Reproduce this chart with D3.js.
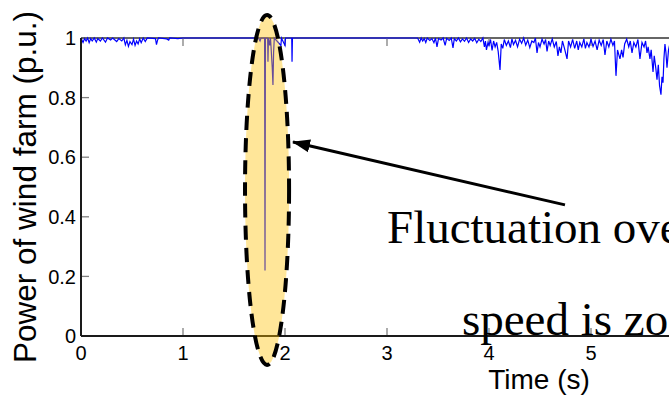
<!DOCTYPE html>
<html>
<head>
<meta charset="utf-8">
<script src="https://cdn.jsdelivr.net/npm/d3@7"></script>
<style>
  body { margin: 0; background: #fff; }
  svg { display: block; }
</style>
</head>
<body>
<div id="chart"></div>
<script>
// axis ticks
var xTicks = [0, 1, 2, 3, 4, 5];
var yTicks = [0, 0.2, 0.4, 0.6, 0.8, 1];

// power of wind farm (p.u.) against time (s)
var powerSeries = [
    [0.00, 1], [0.02, 0.985], [0.035, 0.998], [0.05, 0.99], [0.065, 1], [0.08, 0.984],
    [0.095, 0.998], [0.11, 0.99], [0.13, 1], [0.15, 0.986], [0.165, 0.998], [0.19, 0.99],
    [0.21, 1], [0.24, 0.986], [0.26, 1], [0.29, 0.993], [0.31, 1], [0.35, 0.988],
    [0.37, 0.998], [0.40, 0.99], [0.42, 1], [0.435, 0.977], [0.45, 0.992], [0.465, 0.972],
    [0.48, 0.988], [0.50, 0.978], [0.515, 0.996], [0.53, 0.975], [0.545, 0.99], [0.56, 0.98],
    [0.575, 0.997], [0.59, 0.984], [0.61, 1], [0.63, 0.988], [0.65, 1], [0.73, 0.998],
    [0.74, 0.978], [0.75, 0.992], [0.76, 1], [0.84, 0.997], [0.86, 0.993], [0.87, 1],
    [0.95, 0.998], [1.0, 1],
    [1.74, 1], [1.755, 0.99], [1.765, 1], [1.80, 1], [1.804, 0.22], [1.808, 1],
    [1.83, 1], [1.833, 0.92], [1.838, 1], [1.85, 0.975], [1.858, 1], [1.875, 0.9],
    [1.882, 0.842], [1.888, 0.95], [1.895, 1], [1.96, 0.975], [1.965, 1], [2.0, 0.975],
    [2.005, 1], [2.066, 1], [2.069, 0.92], [2.073, 1],
    [3.30, 1], [3.32, 0.986], [3.335, 1], [3.35, 0.99], [3.365, 0.998], [3.38, 0.985],
    [3.395, 1], [3.42, 0.992], [3.44, 0.998], [3.46, 0.984], [3.475, 1], [3.49, 0.97],
    [3.505, 0.998], [3.53, 0.993], [3.55, 1], [3.57, 0.975], [3.585, 0.999], [3.61, 0.992],
    [3.63, 1], [3.647, 0.967], [3.66, 0.998], [3.68, 0.99], [3.70, 1], [3.72, 0.987],
    [3.74, 0.997], [3.76, 0.989], [3.78, 1], [3.80, 0.985], [3.82, 0.997], [3.84, 0.99],
    [3.86, 0.999], [3.88, 0.984], [3.90, 0.996], [3.92, 0.988], [3.94, 1], [3.955, 0.97],
    [3.965, 0.99], [3.975, 0.96], [3.99, 0.985], [4.00, 0.975], [4.015, 0.995], [4.03, 0.958],
    [4.045, 0.99], [4.06, 0.97], [4.075, 0.985], [4.09, 0.955], [4.108, 0.893], [4.12, 0.98],
    [4.135, 0.965], [4.15, 0.995], [4.17, 0.975], [4.19, 0.99], [4.21, 0.968], [4.225, 0.997],
    [4.24, 0.978], [4.26, 0.992], [4.28, 0.97], [4.30, 0.996], [4.32, 0.982], [4.34, 1],
    [4.36, 0.976], [4.38, 0.993], [4.40, 0.968], [4.42, 0.99], [4.44, 0.985], [4.455, 1],
    [4.471, 0.95], [4.485, 0.985], [4.50, 0.97], [4.52, 0.996], [4.54, 0.98], [4.555, 0.995],
    [4.569, 0.955], [4.585, 0.99], [4.60, 0.975], [4.62, 0.997], [4.64, 0.97], [4.66, 0.988],
    [4.676, 0.94], [4.69, 0.97], [4.705, 0.95], [4.72, 0.99], [4.74, 0.965], [4.765, 0.93],
    [4.78, 0.99], [4.80, 0.97], [4.82, 0.995], [4.84, 0.965], [4.86, 0.99], [4.875, 0.96],
    [4.89, 0.985], [4.91, 0.97], [4.93, 0.997], [4.945, 0.965], [4.96, 0.985], [4.98, 0.97],
    [5.00, 0.995], [5.02, 0.972], [5.04, 0.99], [5.06, 0.96], [5.08, 0.993], [5.10, 0.975],
    [5.12, 0.995], [5.137, 0.943], [5.155, 0.99], [5.175, 0.97], [5.195, 0.996], [5.215, 0.975],
    [5.23, 0.99], [5.245, 0.873], [5.26, 0.96], [5.284, 0.93], [5.30, 0.96], [5.314, 0.935],
    [5.33, 0.98], [5.35, 0.996], [5.37, 0.97], [5.385, 0.99], [5.402, 0.95], [5.42, 0.985],
    [5.44, 0.97], [5.46, 0.995], [5.48, 0.93], [5.50, 0.985], [5.52, 0.97], [5.535, 0.99],
    [5.549, 0.95], [5.56, 0.97], [5.578, 0.93], [5.59, 0.96], [5.608, 0.886], [5.62, 0.94],
    [5.635, 0.9], [5.647, 0.86], [5.66, 0.91], [5.672, 0.84], [5.686, 0.81], [5.696, 0.87],
    [5.706, 0.85], [5.715, 0.93], [5.725, 0.98], [5.735, 0.95], [5.745, 0.9], [5.76, 0.96],
    [5.78, 0.99], [5.80, 0.95], [5.83, 0.98], [5.86, 0.93], [5.9, 0.99]
];

// zoomed-in region (time, power) and the arrow that points at it
var zoomRegion = { t: 1.824, p: 0.49, halfT: 0.216, halfP: 0.587 };
var arrowFrom = [4.745, 0.44],
    arrowTo = [2.078, 0.651];
var noteLines = [
    { text: "Fluctuation over rated wind", t: 3.0, p: 0.312 },
    { text: "speed is zoomed in", t: 3.735, p: 0.003 }
];

var width = 669,
    height = 399,
    margin = { left: 81, top: 38 },
    plotW = 612,
    plotH = 298;

var svg = d3.select("#chart").append("svg")
    .attr("width", width)
    .attr("height", height)
    .style("font-family", "'Liberation Sans', Arial, sans-serif");

var x = d3.scaleLinear().domain([0, 6]).range([margin.left, margin.left + plotW]);
var y = d3.scaleLinear().domain([0, 1]).range([margin.top + plotH, margin.top]);

svg.append("defs").append("marker")
    .attr("id", "head")
    .attr("markerUnits", "userSpaceOnUse")
    .attr("viewBox", "0 -7 18 14")
    .attr("refX", 17)
    .attr("refY", 0)
    .attr("markerWidth", 18)
    .attr("markerHeight", 14)
    .attr("orient", "auto")
    .append("path")
    .attr("d", "M0,-6.5L18,0L0,6.5Z")
    .attr("fill", "#000");

// box (matlab style, ticks inside)
svg.append("line")
    .attr("x1", x(0)).attr("x2", x(6))
    .attr("y1", y(1)).attr("y2", y(1))
    .attr("stroke", "#333").attr("stroke-width", 1.5);

var tickLen = 8;
svg.append("g").selectAll("line.xb")
    .data(xTicks.slice(1))
    .enter().append("line")
    .attr("x1", function(d) { return x(d); })
    .attr("x2", function(d) { return x(d); })
    .attr("y1", y(0))
    .attr("y2", y(0) - tickLen)
    .attr("stroke", "#808080").attr("stroke-width", 1.3);

svg.append("g").selectAll("line.xt")
    .data(xTicks.slice(1))
    .enter().append("line")
    .attr("x1", function(d) { return x(d); })
    .attr("x2", function(d) { return x(d); })
    .attr("y1", y(1))
    .attr("y2", y(1) + tickLen)
    .attr("stroke", "#808080").attr("stroke-width", 1.3);

svg.append("g").selectAll("line.yl")
    .data(yTicks.slice(1, -1))
    .enter().append("line")
    .attr("x1", x(0))
    .attr("x2", x(0) + tickLen)
    .attr("y1", function(d) { return y(d); })
    .attr("y2", function(d) { return y(d); })
    .attr("stroke", "#808080").attr("stroke-width", 1.3);

// data
var line = d3.line()
    .x(function(d) { return x(d[0]); })
    .y(function(d) { return y(d[1]); });

svg.append("path")
    .datum(powerSeries)
    .attr("d", line)
    .attr("fill", "none")
    .attr("stroke", "#0000ff")
    .attr("stroke-width", 1.2)
    .attr("stroke-linejoin", "miter");

// axis lines
svg.append("line")
    .attr("x1", x(0)).attr("x2", x(0))
    .attr("y1", y(0)).attr("y2", y(1))
    .attr("stroke", "#1a1a1a").attr("stroke-width", 2);
svg.append("line")
    .attr("x1", x(0)).attr("x2", x(6))
    .attr("y1", y(0)).attr("y2", y(0))
    .attr("stroke", "#1a1a1a").attr("stroke-width", 2);

// tick labels
svg.append("g").selectAll("text")
    .data(xTicks)
    .enter().append("text")
    .attr("x", function(d) { return x(d); })
    .attr("y", y(0) + 24)
    .attr("text-anchor", "middle")
    .style("font-size", "20px")
    .attr("fill", "#000")
    .text(function(d) { return d; });

svg.append("g").selectAll("text")
    .data(yTicks)
    .enter().append("text")
    .attr("x", x(0) - 5)
    .attr("y", function(d) { return y(d); })
    .attr("dy", "0.36em")
    .attr("text-anchor", "end")
    .style("font-size", "20px")
    .attr("fill", "#000")
    .text(function(d) { return d; });

// axis titles
svg.append("text")
    .attr("x", 539)
    .attr("y", 389)
    .attr("text-anchor", "middle")
    .style("font-size", "28px")
    .text("Time (s)");

svg.append("text")
    .attr("transform", "translate(36,187) rotate(-90)")
    .attr("text-anchor", "middle")
    .style("font-size", "31.5px")
    .text("Power of wind farm (p.u.)");

// highlighted region
svg.append("ellipse")
    .attr("cx", x(zoomRegion.t))
    .attr("cy", y(zoomRegion.p))
    .attr("rx", x(zoomRegion.halfT) - x(0))
    .attr("ry", y(0) - y(zoomRegion.halfP))
    .attr("fill", "#ffc000")
    .attr("fill-opacity", 0.4)
    .attr("stroke", "#000")
    .attr("stroke-width", 4)
    .attr("stroke-dasharray", "14,8");

svg.append("line")
    .attr("x1", x(arrowFrom[0])).attr("y1", y(arrowFrom[1]))
    .attr("x2", x(arrowTo[0])).attr("y2", y(arrowTo[1]))
    .attr("stroke", "#000")
    .attr("stroke-width", 3)
    .attr("marker-end", "url(#head)");

svg.append("g").selectAll("text")
    .data(noteLines)
    .enter().append("text")
    .attr("x", function(d) { return x(d.t); })
    .attr("y", function(d) { return y(d.p); })
    .style("font-family", "'Liberation Serif', 'Times New Roman', serif")
    .style("font-size", "47px")
    .attr("fill", "#000")
    .text(function(d) { return d.text; });
</script>
</body>
</html>
